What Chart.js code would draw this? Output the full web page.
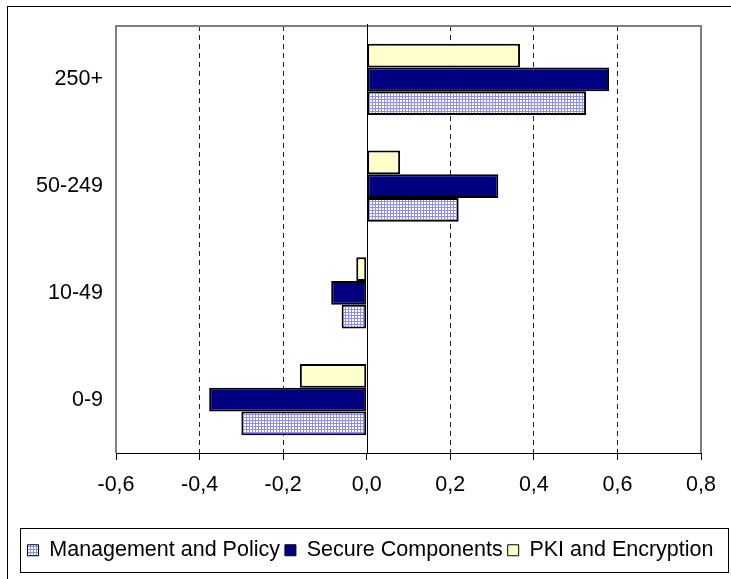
<!DOCTYPE html>
<html>
<head>
<meta charset="utf-8">
<script src="https://cdn.jsdelivr.net/npm/chart.js@4/dist/chart.umd.min.js"></script>
<style>
  html, body { margin: 0; padding: 0; background: #fff; }
  #wrap { width: 731px; height: 579px; }
</style>
</head>
<body>
<div id="wrap"><canvas id="c" width="731" height="579"></canvas></div>
<script>
// Company size classes, top to bottom
const categories = ['250+', '50-249', '10-49', '0-9'];

// Series values per size class
const managementPolicy = [0.525, 0.22, -0.06, -0.30];
const secureComponents = [0.58, 0.315, -0.085, -0.377];
const pkiEncryption = [0.367, 0.08, -0.025, -0.16];

// Value axis ticks
const xTicks = [-0.6, -0.4, -0.2, 0.0, 0.2, 0.4, 0.6, 0.8];

const FONT = { family: "'Liberation Sans', Arial, sans-serif", size: 21.5 };

const canvas = document.getElementById('c');
const ctx0 = canvas.getContext('2d');

// Fine blue grid fill used for "Management and Policy"
function gridPattern() {
  const tile = document.createElement('canvas');
  tile.width = 3; tile.height = 3;
  const g = tile.getContext('2d');
  g.fillStyle = '#ffffff'; g.fillRect(0, 0, 3, 3);
  g.fillStyle = '#8c8cff';
  g.fillRect(0, 0, 3, 1);
  g.fillRect(0, 0, 1, 3);
  return ctx0.createPattern(tile, 'repeat');
}

const decorations = {
  id: 'decorations',
  beforeDraw(chart) {
    const ctx = chart.ctx;
    ctx.save();
    ctx.fillStyle = '#fff';
    ctx.fillRect(0, 0, chart.width, chart.height);
    // outer chart frame (right and bottom edges lie outside the canvas)
    ctx.strokeStyle = '#000';
    ctx.lineWidth = 1;
    ctx.strokeRect(7.5, 6.5, chart.width + 10, chart.height + 10);
    ctx.restore();
  },
  beforeDatasetsDraw(chart) {
    const { ctx, chartArea: a } = chart;
    ctx.save();
    ctx.strokeStyle = '#808080';
    ctx.lineWidth = 2;
    ctx.beginPath();
    ctx.moveTo(a.left, a.bottom);
    ctx.lineTo(a.left, a.top);
    ctx.lineTo(a.right, a.top);
    ctx.lineTo(a.right, a.bottom);
    ctx.stroke();
    ctx.restore();
  },
  afterDatasetsDraw(chart) {
    const { ctx, chartArea: a } = chart;
    const x0 = Math.round(chart.scales.x.getPixelForValue(0)) + 0.5;
    ctx.save();
    ctx.strokeStyle = '#000';
    ctx.lineWidth = 1;
    ctx.beginPath();
    ctx.moveTo(x0, a.top - 2);
    ctx.lineTo(x0, a.bottom);
    ctx.stroke();
    ctx.restore();
  },
  afterDraw(chart) {
    const hb = chart.legend && chart.legend.legendHitBoxes;
    if (!hb || !hb.length) return;
    const left = Math.min(...hb.map(h => h.left));
    const right = Math.max(...hb.map(h => h.left + h.width));
    const cy = hb[0].top + hb[0].height / 2;
    const ctx = chart.ctx;
    ctx.save();
    ctx.strokeStyle = '#000';
    ctx.lineWidth = 1;
    ctx.strokeRect(Math.round(left - 8) + 0.5, Math.round(cy - 22) + 0.5,
                   Math.round(right - left + 22), 44);
    ctx.restore();
  }
};

new Chart(canvas, {
  type: 'bar',
  data: {
    labels: categories,
    datasets: [
      { label: 'PKI and Encryption', data: pkiEncryption,
        backgroundColor: '#ffffcc', borderColor: '#000', borderWidth: 2, borderSkipped: false },
      { label: 'Secure Components', data: secureComponents,
        backgroundColor: '#000080', borderColor: '#000', borderWidth: 2, borderSkipped: false },
      { label: 'Management and Policy', data: managementPolicy,
        backgroundColor: gridPattern(), borderColor: '#000', borderWidth: 2, borderSkipped: false }
    ]
  },
  options: {
    indexAxis: 'y',
    responsive: false,
    animation: false,
    devicePixelRatio: 1,
    categoryPercentage: 0.667,
    barPercentage: 1.0,
    layout: { padding: { top: 26, left: 10, right: 0, bottom: 8 } },
    scales: {
      x: {
        min: xTicks[0],
        max: xTicks[xTicks.length - 1],
        afterBuildTicks: s => { s.ticks = xTicks.map(v => ({ value: v })); },
        afterFit: s => { s.height = 81.5; s.paddingLeft = 0; s.paddingRight = 30; },
        grid: {
          color: c => {
            if (!c.tick) return 'rgba(0,0,0,0)';
            const v = c.tick.value;
            return (Math.abs(v) < 1e-9 || c.index === 0 || c.index === xTicks.length - 1)
              ? 'rgba(0,0,0,0)' : '#222';
          },
          lineWidth: 1,
          drawTicks: true,
          tickLength: 7,
          tickColor: '#000',
          tickWidth: 1
        },
        border: { display: true, color: '#000', width: 1, dash: [5, 4] },
        ticks: {
          color: '#000',
          font: FONT,
          padding: 12,
          maxRotation: 0,
          callback: v => Number(v).toFixed(1).replace('.', ',')
        }
      },
      y: {
        afterFit: s => { s.width = 106; s.paddingTop = 0; s.paddingBottom = 0; },
        grid: { display: false, drawTicks: false },
        border: { display: false },
        ticks: { color: '#000', font: FONT, padding: 13 }
      }
    },
    plugins: {
      tooltip: { enabled: false },
      legend: {
        position: 'bottom',
        reverse: true,
        labels: {
          color: '#000',
          font: FONT,
          boxWidth: 11,
          boxHeight: 11,
          padding: 5,
          generateLabels: chart => {
            const items = Chart.defaults.plugins.legend.labels.generateLabels(chart);
            items.forEach(it => { it.lineWidth = 1; it.strokeStyle = '#000'; });
            return items;
          }
        }
      }
    }
  },
  plugins: [decorations]
});
</script>
</body>
</html>
